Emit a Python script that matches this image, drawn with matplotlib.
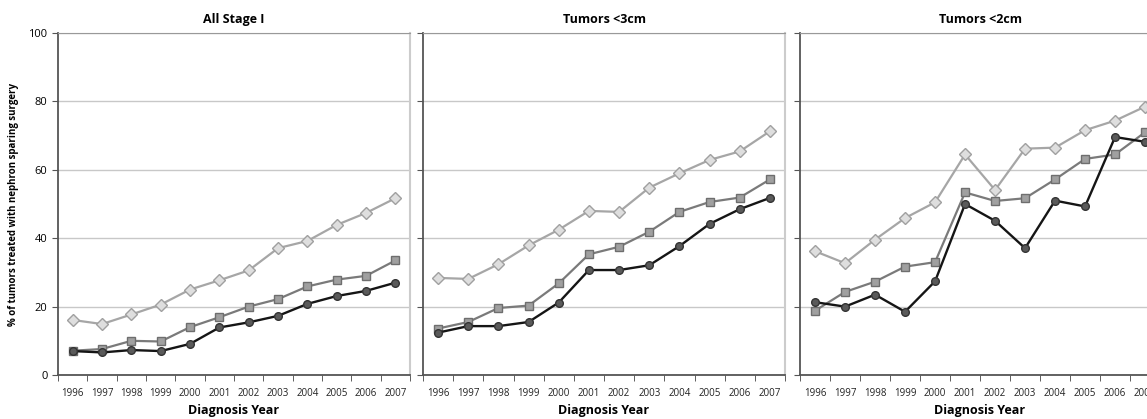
import numpy as np
import matplotlib.pyplot as plt

plt.rcParams['font.family'] = ['Open Sans', 'DejaVu Sans']

years = ['1996', '1997', '1998', '1999', '2000', '2001',
         '2002', '2003', '2004', '2005', '2006', '2007']
titles = ['All Stage I', 'Tumors <3cm', 'Tumors <2cm']

# light diamonds / mid squares / dark circles, one list per panel
diamonds = [
    [16.1, 14.9, 17.7, 20.6, 25.0, 27.7, 30.6, 37.1, 39.2, 43.9, 47.4, 51.7],
    [28.4, 28.1, 32.4, 37.9, 42.5, 48.0, 47.7, 54.8, 59.0, 62.9, 65.4, 71.3],
    [36.2, 32.7, 39.6, 45.9, 50.5, 64.5, 54.1, 66.2, 66.5, 71.6, 74.4, 78.5],
]
squares = [
    [7.1, 7.6, 10.0, 9.8, 14.0, 16.9, 20.0, 22.2, 25.9, 27.9, 29.0, 33.5],
    [13.6, 15.5, 19.6, 20.3, 26.8, 35.3, 37.5, 41.9, 47.7, 50.6, 51.9, 57.2],
    [18.8, 24.3, 27.3, 31.7, 33.0, 53.4, 50.9, 51.7, 57.2, 63.2, 64.5, 71.0],
]
circles = [
    [7.0, 6.6, 7.3, 7.0, 9.1, 13.9, 15.4, 17.3, 20.8, 23.1, 24.6, 27.0],
    [12.4, 14.3, 14.3, 15.5, 21.2, 30.7, 30.7, 32.1, 37.7, 44.2, 48.5, 51.8],
    [21.3, 20.0, 23.5, 18.5, 27.4, 50.0, 45.1, 37.1, 51.0, 49.3, 69.6, 68.2],
]

fig = plt.figure(figsize=(11.47, 4.19), dpi=100)
# third panel runs past the right edge, as in the source figure
boxes = [
    [0.0506, 0.105, 0.3069, 0.816],
    [0.3688, 0.105, 0.3156, 0.816],
    [0.6975, 0.105, 0.3139, 0.816],
]

x = np.arange(len(years))
for i, box in enumerate(boxes):
    ax = fig.add_axes(box)
    ax.set_xlim(-0.5, 11.5)
    ax.set_ylim(0, 100)
    ax.yaxis.grid(True, color='#c8c8c8', lw=1)
    ax.set_axisbelow(True)

    ax.plot(x, diamonds[i], color='#a6a6a6', lw=1.6, marker='D', ms=6,
            mfc='#dedede', mec='#a0a0a0', mew=1, zorder=3)
    ax.plot(x, squares[i], color='#7a7a7a', lw=1.6, marker='s', ms=5.5,
            mfc='#a0a0a0', mec='#6e6e6e', mew=1, zorder=4)
    ax.plot(x, circles[i], color='#151515', lw=1.7, marker='o', ms=5.5,
            mfc='#5a5a5a', mec='#333333', mew=1, zorder=5)

    ax.set_xticks(x)
    ax.set_xticklabels(years, fontsize=7, color='#222222')
    ax.set_xticks(np.arange(-0.5, 12, 1), minor=True)
    ax.tick_params(axis='x', which='major', length=0, pad=9)
    ax.tick_params(axis='x', which='minor', length=4, color='#444444',
                   direction='out')
    ax.set_yticks([0, 20, 40, 60, 80, 100])
    ax.tick_params(axis='y', length=4, color='#555555', labelsize=8)
    if i > 0:
        ax.set_yticklabels([])

    for side in ['left', 'bottom']:
        ax.spines[side].set_color('#555555')
        ax.spines[side].set_linewidth(1.3)
    ax.spines['top'].set_color('#999999')
    ax.spines['right'].set_color('#cccccc')
    ax.spines['right'].set_linewidth(1.5)

    ax.set_title(titles[i], fontsize=9, fontweight='bold', pad=7)
    ax.set_xlabel('Diagnosis Year', fontsize=9, fontweight='bold', labelpad=4)
    if i == 0:
        ax.set_ylabel('% of tumors treated with nephron sparing surgery',
                      fontsize=7, fontweight='bold', labelpad=7)

fig.savefig('out.png', dpi=100)
